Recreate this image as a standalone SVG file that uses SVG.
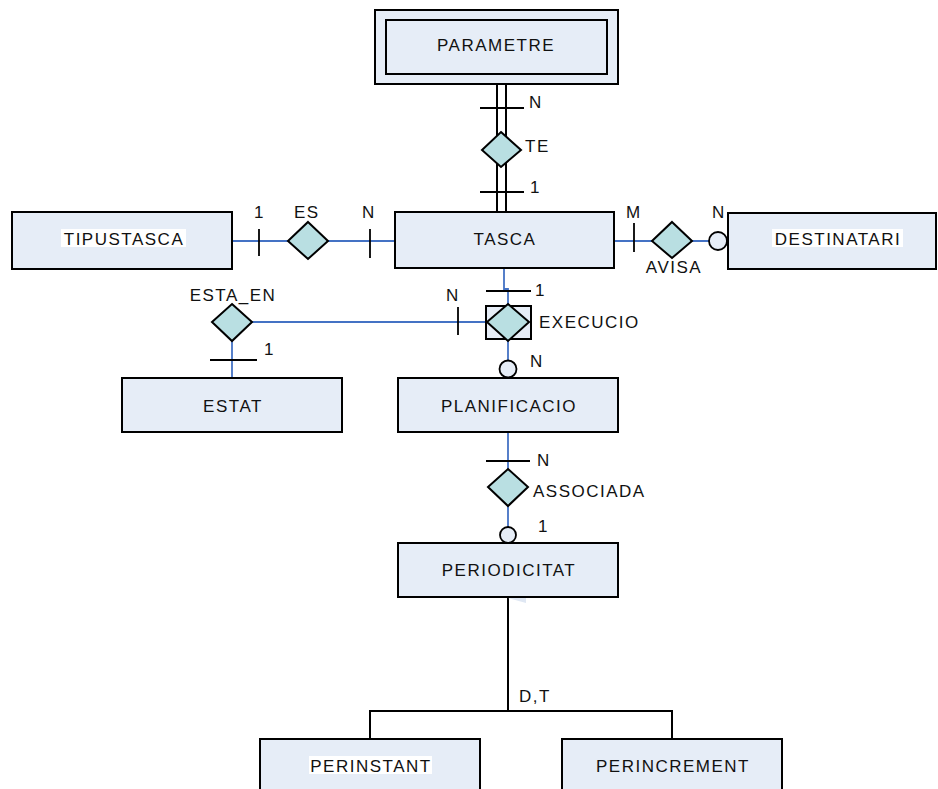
<svg xmlns="http://www.w3.org/2000/svg" width="938" height="789" viewBox="0 0 938 789">
  <style>
    .ent { fill: #e6edf7; stroke: #000; stroke-width: 2; }
    .rel { fill: #b9dfe2; stroke: #000; stroke-width: 2; }
    .opt { fill: #e6edf7; stroke: #000; stroke-width: 1.8; }
    .tbg { fill: #fff; }
    .lnk { fill: none; stroke: #4472c4; stroke-width: 1.8; }
    .blk { fill: none; stroke: #000; stroke-width: 2; }
    .tick { stroke: #000; stroke-width: 1.8; }
    text { font-family: "Liberation Sans", Arial, sans-serif; font-size: 17px; letter-spacing: 1.5px; fill: #111; }
    .c { text-anchor: middle; }
  </style>
  <defs>
    <marker id="isa" viewBox="0 0 10 18" refX="5" refY="0" markerWidth="10" markerHeight="18" markerUnits="userSpaceOnUse" orient="auto-start-reverse">
      <path d="M5 0 L10 18 L0 18 Z" fill="#dfe7f3"/>
    </marker>
  </defs>

  <rect width="938" height="789" fill="#fff"/>

  <!-- connectors -->
  <g id="connectors">
    <!-- PARAMETRE - TE - TASCA (identifying, double line) -->
    <line class="blk" x1="497" y1="84" x2="497" y2="212"/>
    <line class="blk" x1="506" y1="84" x2="506" y2="212"/>
    <line class="tick" x1="480" y1="108" x2="524" y2="108"/>
    <line class="tick" x1="480" y1="192" x2="524" y2="192"/>

    <!-- TIPUSTASCA - ES - TASCA -->
    <line class="lnk" x1="232" y1="241" x2="395" y2="241"/>
    <line class="tick" x1="259" y1="229" x2="259" y2="256"/>
    <line class="tick" x1="370" y1="229" x2="370" y2="258"/>

    <!-- TASCA - AVISA - DESTINATARI -->
    <line class="lnk" x1="614" y1="241" x2="709" y2="241"/>
    <line class="tick" x1="634" y1="223" x2="634" y2="252"/>

    <!-- TASCA - EXECUCIO -->
    <polyline class="lnk" points="504,268 504,289 508,289 508,304"/>
    <line class="tick" x1="486" y1="291" x2="531" y2="291"/>

    <!-- ESTA_EN - EXECUCIO -->
    <line class="lnk" x1="252" y1="322" x2="487" y2="322"/>
    <line class="tick" x1="458" y1="307" x2="458" y2="335"/>

    <!-- ESTA_EN - ESTAT -->
    <line class="lnk" x1="232" y1="341" x2="232" y2="378"/>
    <line class="tick" x1="210" y1="360" x2="257" y2="360"/>

    <!-- EXECUCIO - PLANIFICACIO -->
    <line class="lnk" x1="508" y1="340" x2="508" y2="378"/>

    <!-- PLANIFICACIO - ASSOCIADA - PERIODICITAT -->
    <line class="lnk" x1="508" y1="432" x2="508" y2="543"/>
    <line class="tick" x1="486" y1="461" x2="530" y2="461"/>

    <!-- generalisation of PERIODICITAT -->
    <line class="blk" x1="508" y1="711" x2="508" y2="598" marker-end="url(#isa)"/>
    <polyline class="blk" points="370,739 370,711 672,711 672,739"/>
  </g>

  <!-- entities -->
  <g id="parametre">
    <rect class="ent" x="375" y="10" width="243" height="74"/>
    <rect class="ent" x="386" y="20" width="221" height="54"/>
    <text class="c" x="496" y="51">PARAMETRE</text>
  </g>
  <g id="tipustasca">
    <rect class="ent" x="12" y="212" width="220" height="57"/>
    <rect class="tbg" x="61" y="229" width="125" height="18"/>
    <text class="c" x="124" y="245">TIPUSTASCA</text>
  </g>
  <g id="tasca">
    <rect class="ent" x="395" y="212" width="219" height="56"/>
    <text class="c" x="505" y="245">TASCA</text>
  </g>
  <g id="destinatari">
    <rect class="ent" x="728" y="213" width="208" height="56"/>
    <rect class="tbg" x="772" y="229" width="131" height="18"/>
    <text class="c" x="838" y="245">DESTINATARI</text>
  </g>
  <g id="estat">
    <rect class="ent" x="122" y="378" width="220" height="54"/>
    <text class="c" x="233" y="412">ESTAT</text>
  </g>
  <g id="planificacio">
    <rect class="ent" x="398" y="378" width="220" height="54"/>
    <text class="c" x="509" y="412">PLANIFICACIO</text>
  </g>
  <g id="periodicitat">
    <rect class="ent" x="398" y="543" width="220" height="54"/>
    <text class="c" x="509" y="576">PERIODICITAT</text>
  </g>
  <g id="perinstant">
    <rect class="ent" x="260" y="739" width="220" height="60"/>
    <rect class="tbg" x="309" y="756" width="123" height="18"/>
    <text class="c" x="371" y="772">PERINSTANT</text>
  </g>
  <g id="perincrement">
    <rect class="ent" x="562" y="739" width="220" height="60"/>
    <text class="c" x="673" y="772">PERINCREMENT</text>
  </g>

  <!-- relationships -->
  <g id="te">
    <polygon class="rel" points="501,132 521,150 501,167 482,150"/>
    <text x="525" y="152">TE</text>
    <text x="529" y="108">N</text>
    <text x="530" y="193">1</text>
  </g>
  <g id="es">
    <polygon class="rel" points="308,222 328,241 308,259 288,241"/>
    <text x="294" y="218">ES</text>
    <text x="254" y="218">1</text>
    <text x="362" y="218">N</text>
  </g>
  <g id="avisa">
    <text class="c" x="674" y="273">AVISA</text>
    <polygon class="rel" points="672,222 692,241 672,258 652,241"/>
    <circle class="opt" cx="718" cy="241" r="9"/>
    <text x="626" y="218">M</text>
    <text x="712" y="218">N</text>
  </g>
  <g id="execucio">
    <rect class="ent" x="486" y="306" width="45" height="33"/>
    <polygon class="rel" points="508,304 529,322 508,341 487,322"/>
    <circle class="opt" cx="508" cy="369" r="8.5"/>
    <text x="539" y="328">EXECUCIO</text>
    <text x="535" y="296">1</text>
    <text x="446" y="301">N</text>
    <text x="530" y="367">N</text>
  </g>
  <g id="esta_en">
    <polygon class="rel" points="232,304 252,322 232,341 212,322"/>
    <text class="c" x="233" y="301">ESTA_EN</text>
    <text x="264" y="355">1</text>
  </g>
  <g id="associada">
    <polygon class="rel" points="508,469 528,487 508,506 488,487"/>
    <circle class="opt" cx="508" cy="535" r="8"/>
    <text x="533" y="497">ASSOCIADA</text>
    <text x="537" y="466">N</text>
    <text x="538" y="532">1</text>
  </g>
  <g id="isa-label">
    <text x="519" y="702">D,T</text>
  </g>
</svg>
